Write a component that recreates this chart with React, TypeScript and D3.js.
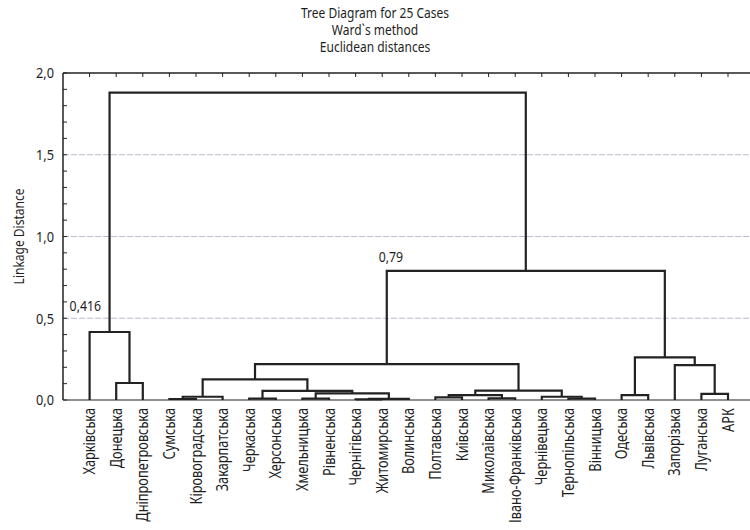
import React from "react";
import * as d3 from "d3";

const titleLines = ["Tree Diagram for 25 Cases", "Ward`s method", "Euclidean distances"];
const yAxisLabel = "Linkage Distance";

const leaves = [
  "Харківська", "Донецька", "Дніпропетровська", "Сумська", "Кіровоградська",
  "Закарпатська", "Черкаська", "Херсонська", "Хмельницька", "Рівненська",
  "Чернігівська", "Житомирська", "Волинська", "Полтавська", "Київська",
  "Миколаївська", "Івано-Франківська", "Чернівецька", "Тернопільська", "Вінницька",
  "Одеська", "Львівська", "Запорізька", "Луганська", "АРК",
];

// linkage: [left child, right child, height]; ids >= 25 refer to earlier merges
const merges: [number, number, number][] = [
  [10, 11, 0.004],
  [25, 12, 0.007],
  [18, 19, 0.008],
  [3, 4, 0.006],
  [6, 7, 0.009],
  [8, 9, 0.009],
  [15, 16, 0.01],
  [13, 14, 0.016],
  [28, 5, 0.02],
  [17, 27, 0.02],
  [32, 31, 0.03],
  [20, 21, 0.03],
  [23, 24, 0.037],
  [30, 26, 0.04],
  [29, 38, 0.056],
  [35, 34, 0.057],
  [1, 2, 0.104],
  [33, 39, 0.126],
  [22, 37, 0.213],
  [42, 40, 0.22],
  [36, 43, 0.261],
  [0, 41, 0.416],
  [44, 45, 0.79],
  [46, 47, 1.88],
];

const yTicks = [0, 0.5, 1.0, 1.5, 2.0];
const yMinorTicks = d3.range(0, 2.0001, 0.1);
const gridValues = [0.5, 1.0, 1.5];
// annotated merges (index into merges) with their labels
const annotations: { mergeIndex: number; text: string }[] = [
  { mergeIndex: 21, text: "0,416" },
  { mergeIndex: 22, text: "0,79" },
];

const W = 750, H = 530;
const left = 63, top = 73, bottom = 400, rightFull = 754.6, rightVisible = 750;
const FONT = "'Noto Sans', sans-serif";
const fmt = (v: number) => d3.format(".1f")(v).replace(".", ",");

function T({ x, y, rot = 0, anchor = "start", size = 14, sx = 0.8, dy = "0", children }: any) {
  return (
    <text
      transform={`translate(${x},${y}) rotate(${rot}) scale(${sx},1)`}
      textAnchor={anchor}
      dy={dy}
      fontSize={size}
      fill="#1e1e1e"
    >
      {children}
    </text>
  );
}

export default function App() {
  const x = d3.scalePoint<string>().domain(leaves).range([left, rightFull]).padding(1);
  const y = d3.scaleLinear().domain([0, 2]).range([bottom, top]);

  const pos: { x: number; h: number }[] = leaves.map((l) => ({ x: x(l) as number, h: 0 }));
  const paths: string[] = [];
  merges.forEach(([a, b, h]) => {
    const pa = pos[a], pb = pos[b];
    const p = d3.path();
    p.moveTo(pa.x, y(pa.h));
    p.lineTo(pa.x, y(h));
    p.lineTo(pb.x, y(h));
    p.lineTo(pb.x, y(pb.h));
    paths.push(p.toString());
    pos.push({ x: (pa.x + pb.x) / 2, h });
  });

  return (
    <svg width={W} height={H} style={{ position: "absolute", left: 0, top: 0, background: "#fff" }} fontFamily={FONT}>
      <rect x={0} y={0} width={W} height={H} fill="#fff" />
      {titleLines.map((t, i) => (
        <T key={t} x={W / 2} y={18 + i * 17} anchor="middle" size={15} sx={0.8}>{t}</T>
      ))}
      {gridValues.map((v) => (
        <line key={v} x1={left} x2={rightVisible} y1={y(v)} y2={y(v)} stroke="#b7bfcc" strokeWidth={1} strokeDasharray="6 2" />
      ))}
      <line x1={left} x2={rightVisible} y1={top} y2={top} stroke="#222" strokeWidth={1.5} />
      <line x1={left} x2={rightVisible} y1={bottom} y2={bottom} stroke="#222" strokeWidth={1.2} />
      <line x1={left} x2={left} y1={top} y2={bottom} stroke="#222" strokeWidth={1.5} />
      {yMinorTicks.map((v) => (
        <line key={v} x1={left} x2={left + 4} y1={y(v)} y2={y(v)} stroke="#222" strokeWidth={1} />
      ))}
      {leaves.map((l) => (
        <line key={l} x1={x(l)} x2={x(l)} y1={top} y2={top + 4} stroke="#222" strokeWidth={1} />
      ))}
      {yTicks.map((v) => (
        <T key={v} x={left - 9} y={y(v)} dy="0.35em" anchor="end" size={15} sx={0.85}>{fmt(v)}</T>
      ))}
      <T x={19} y={(top + bottom) / 2} rot={-90} anchor="middle" dy="0.35em" size={15} sx={0.8}>{yAxisLabel}</T>
      {paths.map((d, i) => (
        <path key={i} d={d} fill="none" stroke="#222" strokeWidth={2.2} />
      ))}
      {annotations.map((a, i) => {
        const [lc, , h] = merges[a.mergeIndex];
        const lx = pos[lc].x;
        return (
          <T key={a.text} x={lx - (i === 0 ? 20 : 8)} y={y(h) - (i === 0 ? 21 : 9)} size={15} sx={0.82}>{a.text}</T>
        );
      })}
      {leaves.map((l) => (
        <T key={l} x={x(l)} y={bottom + 8} rot={-90} anchor="end" dy="0.35em" size={16} sx={0.8}>{l}</T>
      ))}
    </svg>
  );
}
